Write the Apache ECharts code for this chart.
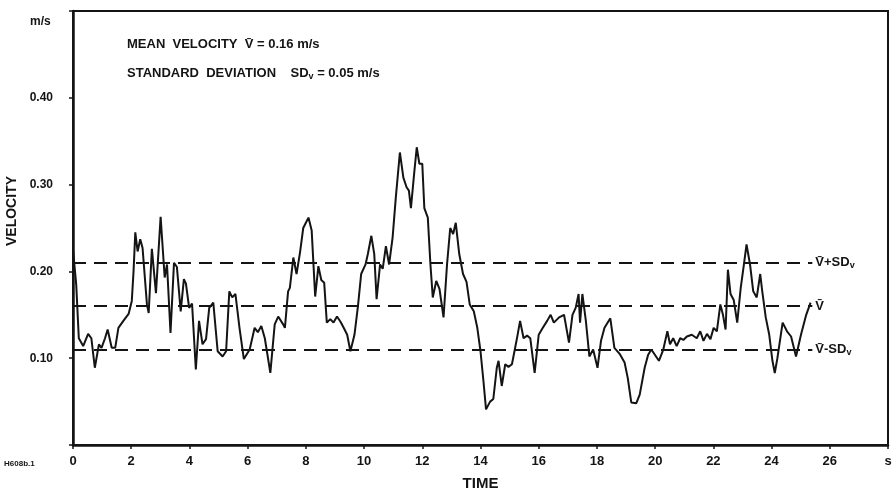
<!DOCTYPE html>
<html>
<head>
<meta charset="utf-8">
<title>Velocity record</title>
<script src="https://cdn.jsdelivr.net/npm/echarts@6/dist/echarts.min.js"></script>
<style>
  html, body { margin: 0; padding: 0; background: #fff; }
  #chart { width: 893px; height: 495px; }
</style>
</head>
<body>
<div id="chart"></div>
<script>
// time (s) and velocity (m/s)
const time = [
  0, 0.11, 0.2, 0.35, 0.52, 0.63, 0.75, 0.89, 0.98, 1.1, 1.19, 1.33, 1.45, 1.56, 1.73, 1.91,
  2.02, 2.08, 2.14, 2.22, 2.31, 2.39, 2.54, 2.6, 2.71, 2.85, 3.01, 3.15, 3.23, 3.35, 3.47, 3.57,
  3.7, 3.81, 3.88, 3.99, 4.09, 4.22, 4.33, 4.45, 4.57, 4.68, 4.82, 4.97, 5.14, 5.26, 5.37, 5.47,
  5.58, 5.72, 5.87, 6.07, 6.24, 6.35, 6.47, 6.59, 6.78, 6.93, 7.05, 7.22, 7.28, 7.34, 7.39, 7.45,
  7.57, 7.68, 7.8, 7.91, 7.97, 8.09, 8.2, 8.32, 8.43, 8.53, 8.63, 8.72, 8.84, 8.95, 9.07, 9.19,
  9.3, 9.42, 9.53, 9.67, 9.79, 9.9, 10.05, 10.13, 10.25, 10.35, 10.43, 10.55, 10.64, 10.75, 10.86, 10.98,
  11.09, 11.23, 11.35, 11.46, 11.54, 11.61, 11.73, 11.81, 11.9, 12.0, 12.07, 12.19, 12.28, 12.36, 12.48, 12.59,
  12.73, 12.85, 12.96, 13.06, 13.15, 13.27, 13.4, 13.52, 13.63, 13.77, 13.89, 14.0, 14.1, 14.19, 14.33, 14.44,
  14.56, 14.62, 14.73, 14.85, 14.96, 15.08, 15.19, 15.27, 15.36, 15.48, 15.6, 15.71, 15.86, 16.0, 16.12, 16.29,
  16.41, 16.52, 16.7, 16.87, 17.04, 17.16, 17.27, 17.37, 17.42, 17.5, 17.62, 17.74, 17.87, 18.02, 18.14, 18.26,
  18.46, 18.6, 18.78, 18.95, 19.06, 19.18, 19.35, 19.47, 19.64, 19.76, 19.87, 19.99, 20.13, 20.28, 20.42, 20.51,
  20.62, 20.74, 20.86, 20.97, 21.09, 21.26, 21.43, 21.55, 21.66, 21.78, 21.9, 22.01, 22.12, 22.24, 22.33, 22.42,
  22.5, 22.59, 22.7, 22.82, 22.94, 23.05, 23.14, 23.26, 23.37, 23.49, 23.61, 23.68, 23.8, 23.92, 24.03, 24.11,
  24.2, 24.38, 24.53, 24.67, 24.84, 25.01, 25.19, 25.34
];
const velocity = [
  0.225, 0.185, 0.123, 0.114, 0.128, 0.123, 0.089, 0.116, 0.112, 0.123, 0.133, 0.112, 0.112, 0.135, 0.143, 0.151,
  0.166, 0.2, 0.245, 0.223, 0.237, 0.227, 0.162, 0.152, 0.226, 0.175, 0.263, 0.193, 0.208, 0.129, 0.21, 0.205,
  0.154, 0.191, 0.186, 0.158, 0.163, 0.087, 0.143, 0.116, 0.122, 0.158, 0.164, 0.108, 0.102, 0.108, 0.177, 0.17,
  0.174, 0.135, 0.099, 0.11, 0.135, 0.13, 0.137, 0.123, 0.083, 0.139, 0.148, 0.139, 0.135, 0.158, 0.177, 0.181,
  0.216, 0.197, 0.222, 0.25, 0.254, 0.262, 0.247, 0.171, 0.206, 0.19, 0.187, 0.141, 0.145, 0.141, 0.148, 0.142,
  0.135, 0.127, 0.108, 0.127, 0.16, 0.197, 0.208, 0.22, 0.241, 0.22, 0.168, 0.208, 0.203, 0.229, 0.208, 0.239,
  0.285, 0.337, 0.308, 0.297, 0.293, 0.273, 0.316, 0.343, 0.324, 0.324, 0.273, 0.262, 0.208, 0.17, 0.189, 0.18,
  0.147, 0.208, 0.25, 0.243, 0.256, 0.22, 0.197, 0.188, 0.162, 0.154, 0.135, 0.108, 0.074, 0.041, 0.05, 0.053,
  0.089, 0.097, 0.068, 0.093, 0.09, 0.093, 0.112, 0.126, 0.143, 0.123, 0.126, 0.123, 0.083, 0.127, 0.134, 0.143,
  0.15, 0.141, 0.147, 0.15, 0.118, 0.15, 0.158, 0.174, 0.141, 0.174, 0.143, 0.102, 0.11, 0.089, 0.12, 0.135,
  0.146, 0.112, 0.105, 0.095, 0.077, 0.049, 0.048, 0.058, 0.089, 0.104, 0.11, 0.104, 0.097, 0.11, 0.131, 0.116,
  0.123, 0.114, 0.123, 0.121, 0.125, 0.127, 0.123, 0.131, 0.12, 0.128, 0.122, 0.135, 0.131, 0.162, 0.15, 0.133,
  0.202, 0.174, 0.167, 0.141, 0.181, 0.208, 0.231, 0.208, 0.177, 0.17, 0.197, 0.177, 0.147, 0.127, 0.097, 0.083,
  0.1, 0.141, 0.131, 0.125, 0.102, 0.127, 0.15, 0.164
];
// reference levels: mean + SD, mean, mean - SD
const refLevels = [0.21, 0.16, 0.11];
const refLabels = ['{v|V\u0304+SD}{s|v}', '{v|V\u0304}', '{v|V\u0304-SD}{s|v}'];
const refEnd = 25.4;
const xTicks = { min: 0, max: 28, step: 2 };
const yTicks = { min: 0, max: 0.5, step: 0.1 };

const FONT = '"Liberation Sans", Arial, sans-serif';
const INK = '#141414';

const chart = echarts.init(document.getElementById('chart'));

const labelRich = {
    v: { fontFamily: FONT, fontWeight: 'bold', fontSize: 13, color: INK },
    s: { fontFamily: FONT, fontWeight: 'bold', fontSize: 9, color: INK, padding: [6, 0, 0, 0] }
};

chart.setOption({
    animation: false,
    grid: {
        left: 73,
        right: 5,
        top: 11,
        bottom: 50,
        containLabel: false,
        outerBoundsMode: 'none',
        show: true,
        borderColor: INK,
        borderWidth: 2
    },
    xAxis: {
        type: 'value',
        min: xTicks.min,
        max: xTicks.max,
        interval: xTicks.step,
        name: 'TIME',
        nameLocation: 'middle',
        nameGap: 31,
        nameTextStyle: { fontFamily: FONT, fontWeight: 'bold', fontSize: 15, color: INK },
        axisLine: { lineStyle: { color: INK, width: 2.5 } },
        axisTick: { show: true, length: 4, lineStyle: { color: INK, width: 1.5 } },
        splitLine: { show: false },
        axisLabel: {
            margin: 10,
            fontFamily: FONT,
            fontWeight: 'bold',
            fontSize: 13,
            color: INK,
            formatter: v => (v === xTicks.max ? 's' : String(v))
        }
    },
    yAxis: {
        type: 'value',
        min: yTicks.min,
        max: yTicks.max,
        interval: yTicks.step,
        name: 'VELOCITY',
        nameLocation: 'middle',
        nameGap: 48,
        nameTextStyle: { fontFamily: FONT, fontWeight: 'bold', fontSize: 14, color: INK, padding: [0, 0, 0, 34] },
        axisLine: { lineStyle: { color: INK, width: 2.5 } },
        axisTick: { show: true, length: 4, lineStyle: { color: INK, width: 1.5 } },
        splitLine: { show: false },
        axisLabel: {
            margin: 20,
            fontFamily: FONT,
            fontWeight: 'bold',
            fontSize: 12,
            color: INK,
            formatter: v => {
                if (v === 0 || v >= yTicks.max) return '';
                return v.toFixed(2);
            }
        }
    },
    graphic: [
        {
            type: 'text', left: 30, top: 16,
            style: { text: 'm/s', fontFamily: FONT, fontWeight: 'bold', fontSize: 12, fill: INK }
        },
        {
            type: 'text', left: 127, top: 38,
            style: {
                text: '{t|MEAN  VELOCITY  V\u0304 = 0.16 m/s}',
                rich: { t: { fontFamily: FONT, fontWeight: 'bold', fontSize: 13, fill: INK } }
            }
        },
        {
            type: 'text', left: 127, top: 67,
            style: {
                text: '{t|STANDARD  DEVIATION    SD}{s|v}{t| = 0.05 m/s}',
                rich: {
                    t: { fontFamily: FONT, fontWeight: 'bold', fontSize: 13, fill: INK },
                    s: { fontFamily: FONT, fontWeight: 'bold', fontSize: 9, fill: INK, padding: [6, 0, 0, 0] }
                }
            }
        },
        {
            type: 'text', left: 4, top: 460,
            style: { text: 'H608b.1', fontFamily: FONT, fontWeight: 'bold', fontSize: 8, fill: INK }
        }
    ],
    series: [{
        type: 'line',
        data: time.map((t, i) => [t, velocity[i]]),
        showSymbol: false,
        symbol: 'none',
        lineStyle: { color: INK, width: 2 },
        markLine: {
            silent: true,
            symbol: 'none',
            lineStyle: { color: INK, width: 2, type: [13, 8] },
            label: {
                show: true,
                position: 'end',
                distance: 3,
                rich: labelRich
            },
            data: refLevels.map((lv, i) => [
                { coord: [0, lv] },
                { coord: [refEnd, lv], label: { formatter: refLabels[i] } }
            ])
        }
    }]
});
</script>
</body>
</html>
